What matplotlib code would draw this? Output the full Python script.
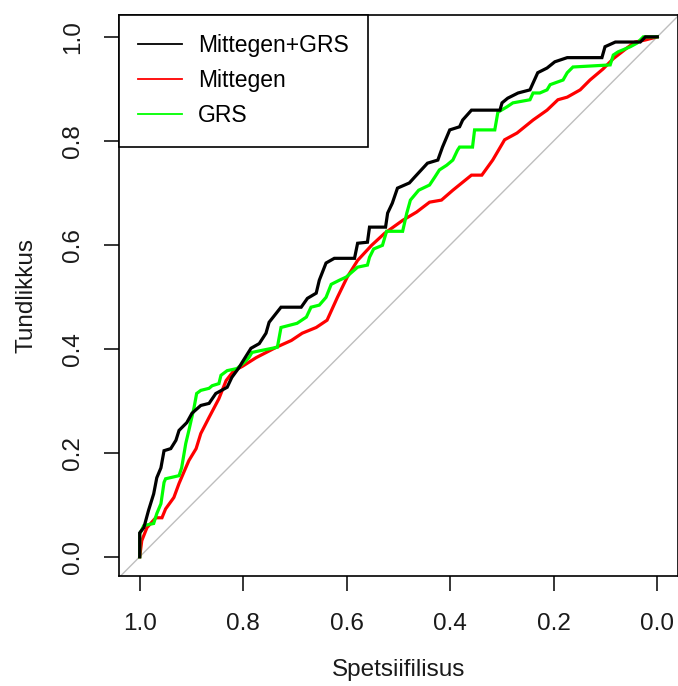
import matplotlib
matplotlib.use("Agg")
import matplotlib.pyplot as plt

plt.rcParams['font.family'] = ['Liberation Sans', 'DejaVu Sans']

# ROC curves: (specificity, sensitivity)
combo_spec = [1.000, 1.000, 0.992, 0.983, 0.973, 0.967, 0.959, 0.953, 0.940, 0.930,
              0.924, 0.909, 0.899, 0.882, 0.866, 0.853, 0.831, 0.822, 0.808, 0.802,
              0.785, 0.769, 0.756, 0.750, 0.727, 0.688, 0.676, 0.659, 0.653, 0.640,
              0.624, 0.585, 0.579, 0.560, 0.556, 0.525, 0.521, 0.512, 0.502, 0.479,
              0.469, 0.444, 0.424, 0.415, 0.401, 0.382, 0.376, 0.359, 0.304, 0.300,
              0.289, 0.269, 0.246, 0.231, 0.213, 0.198, 0.174, 0.107, 0.101, 0.081,
              0.033, 0.023, 0.000]
combo_sens = [0.000, 0.046, 0.056, 0.089, 0.121, 0.152, 0.171, 0.204, 0.208, 0.224,
              0.243, 0.258, 0.276, 0.291, 0.295, 0.314, 0.326, 0.345, 0.364, 0.374,
              0.401, 0.410, 0.430, 0.451, 0.480, 0.480, 0.497, 0.507, 0.532, 0.565,
              0.574, 0.574, 0.603, 0.605, 0.634, 0.634, 0.661, 0.680, 0.709, 0.719,
              0.730, 0.757, 0.763, 0.788, 0.821, 0.827, 0.840, 0.859, 0.859, 0.873,
              0.882, 0.892, 0.898, 0.931, 0.940, 0.952, 0.960, 0.960, 0.981, 0.990,
              0.990, 1.000, 1.000]

mittegen_spec = [1.000, 0.996, 0.986, 0.969, 0.957, 0.950, 0.934, 0.924, 0.915, 0.905,
                 0.891, 0.882, 0.866, 0.847, 0.833, 0.818, 0.802, 0.775, 0.736, 0.707,
                 0.686, 0.659, 0.638, 0.618, 0.599, 0.579, 0.552, 0.527, 0.492, 0.465,
                 0.440, 0.417, 0.395, 0.359, 0.339, 0.318, 0.295, 0.271, 0.240, 0.213,
                 0.192, 0.174, 0.149, 0.130, 0.105, 0.085, 0.058, 0.043, 0.023, 0.000]
mittegen_sens = [0.000, 0.031, 0.056, 0.075, 0.075, 0.092, 0.114, 0.141, 0.162, 0.185,
                 0.208, 0.237, 0.268, 0.304, 0.339, 0.358, 0.366, 0.383, 0.403, 0.416,
                 0.430, 0.441, 0.455, 0.499, 0.538, 0.570, 0.599, 0.622, 0.647, 0.663,
                 0.682, 0.686, 0.705, 0.734, 0.734, 0.763, 0.802, 0.815, 0.840, 0.859,
                 0.879, 0.884, 0.898, 0.917, 0.938, 0.958, 0.979, 0.990, 0.994, 1.000]

grs_spec = [1.000, 1.000, 0.992, 0.973, 0.967, 0.959, 0.953, 0.950, 0.924, 0.919,
            0.911, 0.905, 0.895, 0.890, 0.882, 0.866, 0.860, 0.847, 0.843, 0.831,
            0.812, 0.798, 0.789, 0.783, 0.764, 0.734, 0.727, 0.696, 0.678, 0.669,
            0.653, 0.640, 0.630, 0.614, 0.601, 0.579, 0.560, 0.556, 0.548, 0.531,
            0.523, 0.492, 0.484, 0.477, 0.461, 0.440, 0.430, 0.421, 0.407, 0.395,
            0.386, 0.382, 0.357, 0.353, 0.314, 0.308, 0.291, 0.279, 0.246, 0.240,
            0.227, 0.213, 0.207, 0.182, 0.174, 0.163, 0.091, 0.085, 0.076, 0.052,
            0.039, 0.027, 0.000]
grs_sens = [0.000, 0.044, 0.060, 0.064, 0.083, 0.102, 0.143, 0.150, 0.156, 0.171,
            0.218, 0.243, 0.287, 0.314, 0.320, 0.324, 0.329, 0.333, 0.349, 0.358,
            0.362, 0.374, 0.383, 0.393, 0.397, 0.403, 0.441, 0.449, 0.461, 0.480,
            0.484, 0.499, 0.524, 0.532, 0.538, 0.557, 0.561, 0.576, 0.592, 0.599,
            0.626, 0.626, 0.661, 0.686, 0.705, 0.715, 0.730, 0.744, 0.753, 0.763,
            0.782, 0.788, 0.788, 0.821, 0.821, 0.855, 0.865, 0.873, 0.879, 0.892,
            0.892, 0.898, 0.908, 0.917, 0.931, 0.942, 0.946, 0.965, 0.971, 0.981,
            0.988, 1.000, 1.000]

labels = ["Mittegen+GRS", "Mittegen", "GRS"]
colors = ["black", "#ff0000", "#00ff00"]
ticks = [1.0, 0.8, 0.6, 0.4, 0.2, 0.0]

fs = 16.5
tfs = 17.5
txt = "#1a1a1a"
fig = plt.figure(figsize=(6.78, 6.86), dpi=100)
ax = fig.add_axes([119 / 678, 1 - 576 / 686, 559 / 678, 561 / 686])

ax.axline((1, 0), (0, 1), color="#bebebe", lw=1, zorder=1)
curves = [(combo_spec, combo_sens), (mittegen_spec, mittegen_sens), (grs_spec, grs_sens)]
# draw green and red under black like the original
for idx in [1, 2, 0]:
    sp, se = curves[idx]
    ax.plot(sp, se, color=colors[idx], lw=2.3, solid_joinstyle="miter", zorder=3)

ax.set_xlim(1.04, -0.04)
ax.set_ylim(-0.037, 1.042)
ax.set_xticks(ticks)
ax.set_yticks(ticks)
ax.set_xticklabels([f"{t:.1f}" for t in ticks], fontsize=tfs, color=txt)
ax.set_yticklabels([f"{t:.1f}" for t in ticks], fontsize=tfs, color=txt,
                   rotation=90, va="center")
ax.tick_params(axis="x", length=11, width=1.1, pad=16)
ax.tick_params(axis="y", length=11, width=1.1, pad=14)
for sp in ax.spines.values():
    sp.set_linewidth(1.2)

ax.set_xlabel("Spetsiifilisus", fontsize=tfs, color=txt, labelpad=17)
ax.set_ylabel("Tundlikkus", fontsize=tfs, color=txt, labelpad=18)

handles = [plt.Line2D([], [], color=c, lw=1.3) for c in colors]
leg = ax.legend(handles, labels, loc="upper left", bbox_to_anchor=(0, 1),
                borderaxespad=0, fontsize=fs, fancybox=False, framealpha=1,
                edgecolor="black", handlelength=1.9, handletextpad=0.7,
                borderpad=0.85, labelspacing=0.52)
leg.get_frame().set_linewidth(1.2)

fig.savefig("out.png", dpi=100)
